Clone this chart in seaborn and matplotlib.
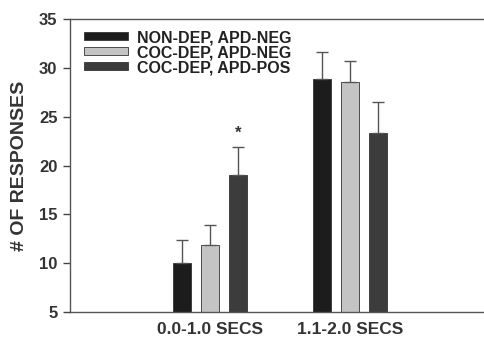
import numpy as np
import pandas as pd
import matplotlib
matplotlib.use('Agg')
import matplotlib.pyplot as plt
import seaborn as sns

# data
intervals = ['0.0-1.0 SECS', '1.1-2.0 SECS']
groups = ['NON-DEP, APD-NEG', 'COC-DEP, APD-NEG', 'COC-DEP, APD-POS']
means = {
    'NON-DEP, APD-NEG': [10.0, 28.9],
    'COC-DEP, APD-NEG': [11.9, 28.5],
    'COC-DEP, APD-POS': [19.0, 23.3],
}
sems = {
    'NON-DEP, APD-NEG': [2.4, 2.7],
    'COC-DEP, APD-NEG': [2.0, 2.2],
    'COC-DEP, APD-POS': [2.9, 3.2],
}
colors = ['#1c1c1c', '#c4c4c4', '#3c3c3c']

rows = []
for g in groups:
    for i, interval in enumerate(intervals):
        rows.append({'interval': interval, 'group': g,
                     'mean': means[g][i], 'sem': sems[g][i]})
df = pd.DataFrame(rows)

sns.set_style('white')
plt.rcParams['font.family'] = ['Liberation Sans', 'DejaVu Sans']
plt.rcParams['font.weight'] = 'bold'

fig = plt.figure(figsize=(4.85, 3.38), dpi=100)
ax = fig.add_axes([0.1443, 0.0769, 0.8557, 0.8669])

sns.barplot(data=df, x='interval', y='mean', hue='group', hue_order=groups,
            order=intervals, palette=colors, width=0.6, gap=0.36,
            edgecolor='#333333', linewidth=0.6, errorbar=None, ax=ax)

# upward-only error bars, placed on the drawn bars
for container, g in zip(ax.containers, groups):
    for bar, i in zip(container, range(len(intervals))):
        xc = bar.get_x() + bar.get_width() / 2
        top = bar.get_height()
        err = sems[g][i]
        ax.errorbar(xc, top, yerr=[[0], [err]], fmt='none', ecolor='#555555',
                    elinewidth=1.0, capsize=4, capthick=1.0, zorder=1)

# significance marker
star_bar = ax.containers[2][0]
ax.text(star_bar.get_x() + star_bar.get_width() / 2,
        means['COC-DEP, APD-POS'][0] + sems['COC-DEP, APD-POS'][0] + 0.6,
        '*', ha='center', va='bottom', fontsize=12, fontweight='bold',
        color='#333333')

ax.set_ylim(5, 35)
ax.set_yticks([5, 10, 15, 20, 25, 30, 35])
ax.set_xlim(-1.0, 1.96)
ax.set_xlabel('')
ax.set_ylabel('# OF RESPONSES', fontsize=14, fontweight='bold', color='#333333',
              labelpad=8)
ax.tick_params(axis='y', left=True, length=5, width=1, color='#444444',
               labelsize=12, labelcolor='#333333', pad=4)
ax.tick_params(axis='x', bottom=False, labelsize=12.5, labelcolor='#333333',
               pad=4)
for lab in ax.get_xticklabels() + ax.get_yticklabels():
    lab.set_fontweight('bold')

for side in ['left', 'bottom', 'top']:
    ax.spines[side].set_color('#555555')
    ax.spines[side].set_linewidth(1.0)
ax.spines['right'].set_visible(False)

leg = ax.legend(loc='upper left', bbox_to_anchor=(0.01, 0.995), frameon=False,
                fontsize=11.5, handlelength=2.8, handleheight=0.4,
                labelspacing=0.0, handletextpad=0.55, borderaxespad=0.2)
for t in leg.get_texts():
    t.set_fontweight('bold')
    t.set_color('#222222')

fig.savefig('out.png', dpi=100)
